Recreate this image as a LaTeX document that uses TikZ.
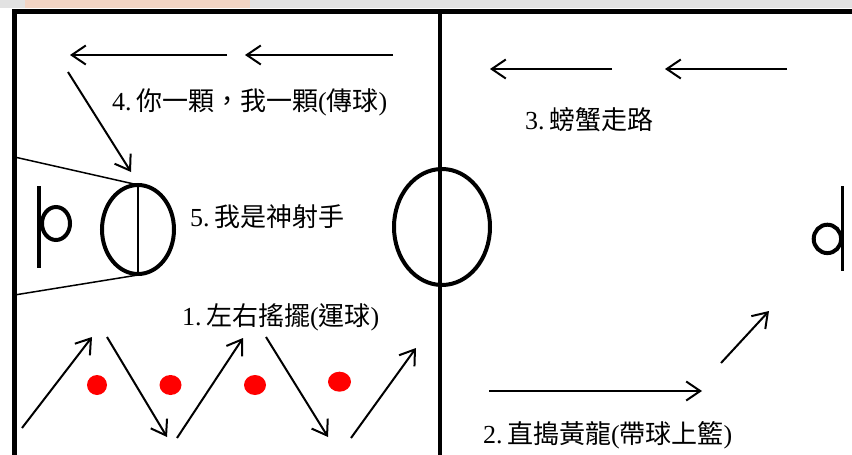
\documentclass[tikz,border=0pt]{standalone}
\usepackage{fontspec}
\setmainfont{Liberation Serif}
\newfontfamily\cjk{Noto Sans CJK TC}
\usetikzlibrary{arrows.meta}
\definecolor{peach}{RGB}{242,212,196}
\definecolor{band}{RGB}{226,226,226}
\begin{document}
\begin{tikzpicture}[x=1pt,y=-1pt,
  arr/.style={line width=2pt,-{Straight Barb[length=14pt,width=19pt]}},
  frameline/.style={line width=5pt,line join=miter},
  ring/.style={line width=4pt},
  thinline/.style={line width=1.5pt},
  lbl/.style={anchor=west,inner sep=0pt,font=\fontsize{26}{26}\selectfont},
  reddot/.style={fill=red,draw=none}]
\useasboundingbox (0,0) rectangle (852,455);
\fill[white] (0,0) rectangle (852,455);
\fill[band] (0,0) rectangle (852,8);
\fill[peach] (25,0) rectangle (250,8);
\begin{scope}
\clip (0,0) rectangle (852,455);
% frame and centre line
\draw[frameline] (14.5,470) -- (14.5,11) -- (870,11);
\draw[line width=4pt] (439.5,11) -- (439.5,470);
% centre circle
\draw[ring] (442,227) ellipse [x radius=48, y radius=58];
% left key
\draw[thinline] (14.5,157) -- (134,184);
\draw[thinline] (14.5,295) -- (138,275);
\draw[ring] (138,229.5) ellipse [x radius=36, y radius=44.5];
\draw[thinline] (138,185) -- (138,274);
% left basket
\draw[line width=4pt] (39,186) -- (39,268);
\draw[ring] (56,223.5) ellipse [x radius=14, y radius=16.5];
% right basket
\draw[line width=3.5pt] (842.7,186) -- (842.7,271);
\draw[ring] (827.4,238.9) ellipse [x radius=13.7, y radius=14.2];
% red dots
\fill[reddot] (97,385) ellipse [x radius=10, y radius=10];
\fill[reddot] (170.5,385) ellipse [x radius=11, y radius=10];
\fill[reddot] (255,385) ellipse [x radius=11, y radius=10];
\fill[reddot] (339.5,381.7) ellipse [x radius=11.5, y radius=10];
% arrow end points
\coordinate (p1s) at (227,55);  \coordinate (p1e) at (70,55);
\coordinate (p2s) at (393,55);  \coordinate (p2e) at (245,55);
\coordinate (p3s) at (68,72);   \coordinate (p3e) at (131,172);
\coordinate (c1s) at (612,69);  \coordinate (c1e) at (490,69);
\coordinate (c2s) at (787,69);  \coordinate (c2e) at (665,69);
\coordinate (z1s) at (22,428);  \coordinate (z1e) at (92,337);
\coordinate (z2s) at (107,337); \coordinate (z2e) at (167,437);
\coordinate (z3s) at (177,438); \coordinate (z3e) at (243,338);
\coordinate (z4s) at (266,337); \coordinate (z4e) at (328,437);
\coordinate (z5s) at (351,438); \coordinate (z5e) at (416,348);
\coordinate (d1s) at (489,391); \coordinate (d1e) at (702,391);
\coordinate (d2s) at (721,363); \coordinate (d2e) at (769,311);
\foreach \a in {p1,p2,p3,c1,c2,z1,z2,z3,z4,z5,d1,d2}
  \draw[arr] (\a s) -- (\a e);
% labels
\node[lbl] (t4) at (112,102) {4.\,{\cjk 你一顆，我一顆}({\cjk 傳球})};
\node[lbl] (t3) at (525,120) {3.\,{\cjk 螃蟹走路}};
\node[lbl] (t5) at (190,217) {5.\,{\cjk 我是神射手}};
\node[lbl] (t1) at (182,317) {1.\,{\cjk 左右搖擺}({\cjk 運球})};
\node[lbl] (t2) at (483,435) {2.\,{\cjk 直搗黃龍}({\cjk 帶球上籃})};
\end{scope}
\end{tikzpicture}
\end{document}
